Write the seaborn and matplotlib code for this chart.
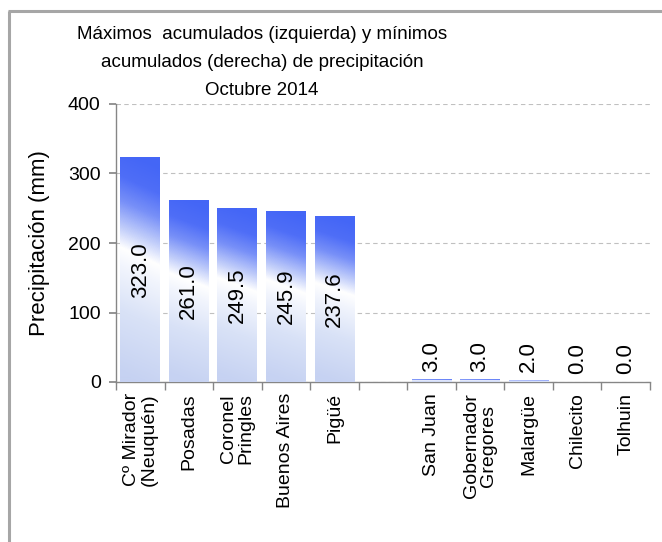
import numpy as np
import pandas as pd
import matplotlib
matplotlib.use("Agg")
import matplotlib.pyplot as plt
import seaborn as sns
from matplotlib.colors import LinearSegmentedColormap
from matplotlib.lines import Line2D

# ---- data ----
stations_max = ["Cº Mirador\n(Neuquén)", "Posadas", "Coronel\nPringles", "Buenos Aires", "Pigüé"]
values_max = [323.0, 261.0, 249.5, 245.9, 237.6]
stations_min = ["San Juan", "Gobernador\nGregores", "Malargüe", "Chilecito", "Tolhuin"]
values_min = [3.0, 3.0, 2.0, 0.0, 0.0]
gap_label = " "
yticks = [0, 100, 200, 300, 400]
title = "Máximos  acumulados (izquierda) y mínimos\nacumulados (derecha) de precipitación\nOctubre 2014"
ylabel = "Precipitación (mm)"

df = pd.DataFrame({
    "station": stations_max + stations_min,
    "value": values_max + values_min,
})
order = stations_max + [gap_label] + stations_min
value_of = dict(zip(df["station"], df["value"]))

sns.set_theme(style="white")
plt.rcParams["font.family"] = ["Liberation Sans", "DejaVu Sans"]

W, H = 662, 542
fig = plt.figure(figsize=(W / 100, H / 100), dpi=100)
ax = fig.add_axes([116 / W, 1 - 382 / H, (650 - 116) / W, (382 - 104) / H])

sns.barplot(data=df, x="station", y="value", order=order, color="#4466F6",
            width=0.82, saturation=1, errorbar=None, ax=ax, zorder=3)

cmap = LinearSegmentedColormap.from_list("grad", [
    (0.00, "#C6D2F2"),
    (0.28, "#D9E2F7"),
    (0.48, "#F2F5FD"),
    (0.56, "#FFFFFF"),
    (0.65, "#C2CEFA"),
    (0.77, "#7890F8"),
    (0.88, "#4F6EF7"),
    (1.00, "#4466F6"),
])

ax.set_xlim(-0.5, len(order) - 0.5)
ax.set_ylim(0, 400)

for p in list(ax.patches):
    x0, w, h = p.get_x(), p.get_width(), p.get_height()
    idx = int(round(x0 + w / 2))
    name = order[idx]
    v = value_of.get(name, np.nan)
    if h > 0:
        ny, nx = 200, 40
        yf = np.linspace(0, 1, ny)[:, None]
        xf = np.linspace(0, 1, nx)[None, :]
        t = np.clip(yf + 0.08 * (xf - 0.5), 0, 1)
        img = cmap(t)
        ax.imshow(img, extent=[x0, x0 + w, 0, h], origin="lower", aspect="auto",
                  interpolation="bilinear", zorder=3.1)
        p.set_facecolor("none")
        p.set_edgecolor("none")
        p.set_linewidth(0)
    if np.isnan(v):
        continue
    xc = x0 + w / 2
    if name in stations_max:
        ax.text(xc, h / 2, f"{v:.1f}", rotation=90, ha="center", va="center",
                fontsize=16, color="black", zorder=5)
    else:
        ax.annotate(f"{v:.1f}", (xc, h), xytext=(0, 6), textcoords="offset points",
                    rotation=90, ha="center", va="bottom", fontsize=16,
                    color="black", zorder=5)

ax.set_xlim(-0.5, len(order) - 0.5)
ax.set_ylim(0, 400)

# axes styling
for s in ["top", "right"]:
    ax.spines[s].set_visible(False)
for s in ["left", "bottom"]:
    ax.spines[s].set_color("#868686")
    ax.spines[s].set_linewidth(1.0)

ax.set_yticks(yticks)
ax.set_yticklabels([str(v) for v in yticks], fontsize=14)
ax.yaxis.grid(True, linestyle=(0, (4, 3)), color="#C0C0C0", linewidth=0.8, zorder=0)
ax.xaxis.grid(False)
ax.set_axisbelow(True)
ax.tick_params(axis="y", left=True, length=5, color="#868686", direction="out",
               pad=6, labelcolor="black")

ax.set_xticks(range(len(order)))
ax.set_xticklabels(order, rotation=90, ha="center", va="top", fontsize=14,
                   linespacing=1.0, multialignment="center")
ax.set_xticks(np.arange(-0.5, len(order), 1), minor=True)
ax.tick_params(axis="x", which="major", bottom=False, length=0, pad=8, labelcolor="black")
ax.tick_params(axis="x", which="minor", bottom=True, length=6, color="#868686",
               direction="out")
ax.set_xlabel("")
ax.set_ylabel(ylabel, fontsize=16, color="black")
ax.yaxis.set_label_coords((50 - 116) / 534, 0.5)

fig.text(262 / W, 1 - 26 / H, title, ha="center", va="top", fontsize=13.5,
         linespacing=1.85, color="black")

# figure border (left and top)
fig.add_artist(Line2D([8.5 / W, 8.5 / W], [0, 1 - 10.5 / H], transform=fig.transFigure,
                      color="#A6A6A6", linewidth=2.2, solid_capstyle="butt"))
fig.add_artist(Line2D([7.5 / W, 1], [1 - 10.5 / H, 1 - 10.5 / H], transform=fig.transFigure,
                      color="#A6A6A6", linewidth=2.2, solid_capstyle="butt"))

fig.savefig("out.png", dpi=100, facecolor="white")
